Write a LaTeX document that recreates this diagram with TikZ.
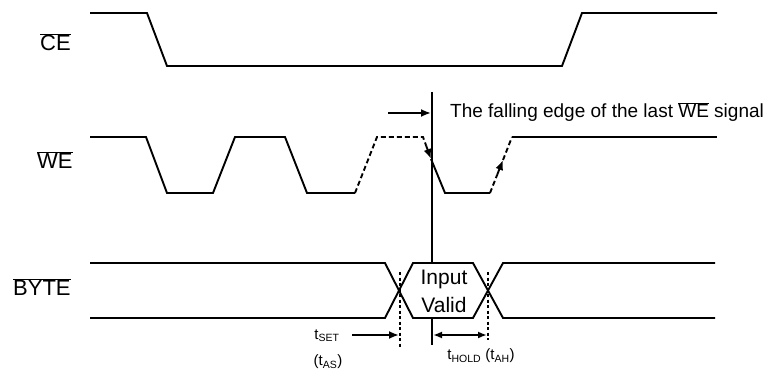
\documentclass[tikz,border=0pt]{standalone}
\usepackage{fontspec}
\setmainfont{Liberation Sans}
\usetikzlibrary{arrows.meta,calc}
\newcommand{\ovl}[1]{$\overline{\hbox{#1}}$}
\begin{document}
\begin{tikzpicture}[x=1pt,y=-1pt,
  sig/.style={line width=1.9pt, line join=miter},
  dsh/.style={sig, dash pattern=on 5pt off 3pt},
  dotv/.style={line width=1.5pt, dash pattern=on 3pt off 2.5pt},
  tip/.style={-{Latex[length=10pt,width=8pt]}},
  tips/.style={{Latex[length=9pt,width=7pt]}-{Latex[length=9pt,width=7pt]}},
  lbl/.style={font=\fontsize{22}{26}\selectfont, anchor=west, inner sep=0pt},
  note/.style={font=\fontsize{19}{22}\selectfont, anchor=west, inner sep=0pt},
  tlbl/.style={font=\fontsize{15}{17}\selectfont, inner sep=0pt},
  valid/.style={font=\fontsize{21}{28}\selectfont, align=center, inner sep=0pt}
]
\useasboundingbox (0,0) rectangle (769,377);

% signal names
\node[lbl] (ce) at (40,42) {\ovl{CE}};
\node[lbl] (we) at (37,160) {\ovl{WE}};
\node[lbl] (byte) at (13,287) {\ovl{BYTE}};

% CE waveform
\draw[sig] (90,13) -- (147,13) -- (167,66) -- (562,66) -- (582,13) -- (717,13);

% WE waveform
\draw[sig] (90,137) -- (146,137) -- (167,193) -- (213,193) -- (235,137)
  -- (285,137) -- (307,193) -- (355,193);
\coordinate (fallT) at (423,137);
\coordinate (fallA) at (431,159);
\coordinate (riseB) at (490,193);
\coordinate (riseA) at (503,160);
\draw[dsh] (355,193) -- (377,137) -- (fallT) -- ($(fallT)!0.4!(fallA)$);
\draw[sig,tip] ($(fallT)!0.4!(fallA)$) -- (fallA);
\draw[sig] (fallA) -- (445,193) -- (riseB);
\draw[dsh] (riseB) -- ($(riseB)!0.55!(riseA)$);
\draw[sig,tip] ($(riseB)!0.55!(riseA)$) -- (riseA);
\draw[dsh] (riseA) -- (512,137);
\draw[sig] (512,137) -- (717,137);

% vertical reference line
\coordinate (vtop) at (432,92);
\coordinate (vmid) at (431,113);
\coordinate (vhex) at (432,263);
\coordinate (vhexb) at (432,318);
\coordinate (vbot) at (432,345);
\draw[sig] (vtop) -- (vhex);
\draw[sig] (vhexb) -- (vbot);

% annotation
\coordinate (nstart) at (388,113);
\draw[sig,tip] (nstart) -- (vmid);
\node[note] (note) at (450,112) {The falling edge of the last \ovl{WE} signal};

% BYTE bus
\draw[sig] (90,263) -- (385,263) -- (413,318) -- (473,318) -- (503,263) -- (715,263);
\draw[sig] (90,318) -- (385,318) -- (413,263) -- (473,263) -- (503,318) -- (715,318);
\node[valid] (iv) at (444,291) {Input\\Valid};

% dotted timing references
\coordinate (dl) at (400,272);
\coordinate (dlb) at (400,347);
\coordinate (dr) at (488,272);
\coordinate (drb) at (488,340);
\draw[dotv] (dl) -- (dlb);
\draw[dotv] (dr) -- (drb);

% tSET
\coordinate (sets) at (352,335);
\coordinate (sete) at (399,335);
\draw[sig,tip] (sets) -- (sete);
\node[tlbl] (tset) at (327,336) {t\textsubscript{SET}};
\node[tlbl] (tas) at (328,362) {(t\textsubscript{AS})};

% tHOLD
\coordinate (holds) at (433,335);
\coordinate (holde) at (487,335);
\draw[sig,tips] (holds) -- (holde);
\node[tlbl] (thold) at (481,356) {t\textsubscript{HOLD} (t\textsubscript{AH})};
\end{tikzpicture}
\end{document}
